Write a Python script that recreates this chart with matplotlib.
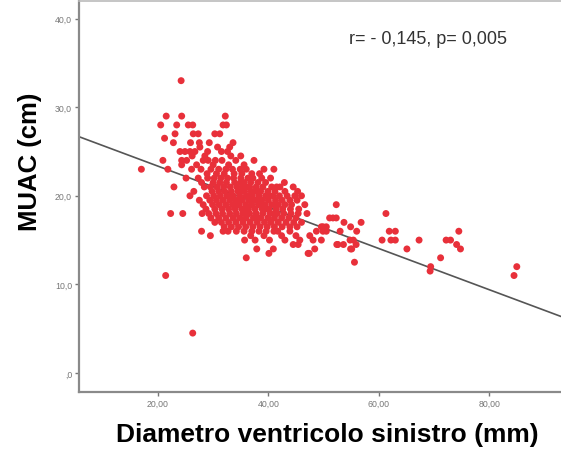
import numpy as np
import matplotlib.pyplot as plt

plt.rcParams["font.family"] = ["Liberation Sans", "DejaVu Sans"]

# MUAC (cm) rows, with the ventricle diameters (mm) measured at each value
muac_levels = [33.0, 29.0, 28.0, 27.0, 26.5, 26.0, 25.5, 25.0, 24.5, 24.0,
               23.5, 23.0, 22.5, 22.0, 21.5, 21.0, 20.5, 20.0, 19.5, 19.0,
               18.5, 18.0, 17.5, 17.0, 16.5, 16.0, 15.5, 15.0, 14.5, 14.0,
               13.5, 13.0, 12.5, 12.0, 11.5, 11.0, 4.5]
diam_by_level = [
    [24.2],
    [21.5, 24.3, 32.2],
    [20.5, 23.4, 25.5, 26.3, 31.8, 32.4],
    [23.1, 26.4, 27.3, 30.3, 31.2],
    [21.2],
    [22.8, 25.9, 27.5, 29.3, 33.6],
    [27.6, 30.8, 33.0],
    [24.0, 24.9, 25.8, 26.7, 29.0, 31.5, 32.6],
    [26.2, 28.5, 33.2, 35.0],
    [20.9, 24.3, 25.2, 28.2, 29.1, 30.4, 31.6, 34.1, 37.4],
    [24.3, 27.0, 30.0, 32.8, 35.6],
    [17.0, 21.8, 26.1, 27.8, 29.6, 31.0, 32.3, 33.5, 34.9, 36.0, 39.2, 41.0],
    [28.9, 30.6, 32.0, 33.8, 35.2, 37.0, 38.4],
    [25.1, 27.3, 29.0, 30.2, 31.4, 32.6, 33.7, 35.0, 36.3, 37.2, 38.8, 40.4],
    [27.9, 30.0, 31.2, 32.4, 33.9, 35.0, 35.6, 36.8, 38.1, 39.5, 42.9],
    [22.9, 28.4, 29.5, 30.7, 31.9, 33.1, 34.3, 35.4, 36.0, 36.6, 37.8, 39.0,
     40.6, 41.5, 42.1, 44.5],
    [26.5, 29.8, 31.0, 32.1, 33.3, 34.5, 35.1, 35.7, 36.9, 37.5, 38.1, 38.6,
     39.9, 41.2, 43.0, 45.3],
    [25.8, 28.8, 30.1, 31.3, 32.5, 33.0, 33.6, 34.8, 36.0, 36.5, 37.1, 38.3,
     39.5, 40.1, 40.8, 42.0, 43.4, 44.8, 46.0],
    [27.5, 29.4, 30.6, 31.8, 33.0, 34.1, 34.7, 35.3, 36.5, 37.6, 38.2, 38.8,
     40.0, 41.3, 42.5, 43.9, 45.2],
    [28.2, 29.9, 31.1, 32.3, 33.5, 34.1, 34.7, 35.9, 37.0, 38.2, 38.8, 39.4,
     40.6, 41.2, 41.8, 43.0, 44.2, 46.6, 52.3],
    [28.7, 30.3, 31.6, 32.8, 34.0, 35.2, 35.8, 36.4, 37.6, 38.9, 39.5, 40.1,
     41.4, 42.6, 44.0, 45.5],
    [22.3, 24.5, 28.0, 29.2, 30.5, 31.7, 33.0, 34.2, 35.4, 36.0, 36.6, 37.8,
     39.0, 40.3, 41.0, 41.6, 42.8, 44.1, 45.4, 47.0, 61.3],
    [29.6, 31.0, 32.3, 33.6, 34.8, 36.0, 37.3, 38.0, 38.6, 39.9, 41.1, 42.4,
     43.7, 45.0, 51.1, 51.7, 52.3],
    [30.3, 31.5, 32.8, 34.1, 35.4, 36.7, 38.0, 39.3, 40.5, 41.8, 43.2, 44.6,
     46.0, 53.7, 56.8],
    [32.0, 33.3, 34.6, 35.9, 37.2, 38.5, 39.8, 41.1, 42.5, 43.9, 45.2, 49.6,
     49.9, 50.5, 54.9],
    [27.9, 31.8, 32.7, 34.2, 35.6, 37.0, 38.3, 39.6, 41.0, 41.7, 43.9, 48.7,
     49.9, 50.5, 53.0, 56.0, 61.9, 63.0, 74.5],
    [29.5, 36.8, 39.2, 42.4, 45.0, 47.5],
    [35.7, 37.6, 40.2, 43.0, 45.7, 48.1, 49.6, 54.8, 55.4, 60.6, 62.2, 63.0,
     67.3, 72.2, 73.0],
    [44.5, 45.4, 52.4, 52.6, 53.6, 55.9, 74.1],
    [37.9, 40.9, 48.4, 54.9, 55.1, 65.1, 74.8],
    [40.1, 47.2, 47.4],
    [36.0, 71.2],
    [55.6],
    [69.4, 85.0],
    [69.3],
    [21.4, 84.5],
    [26.3],
]

# fitted regression line: MUAC = intercept + slope * diameter
fit_intercept = 28.0
fit_slope = -0.2325

x_ticks = [20, 40, 60, 80]
x_tick_labels = ["20,00", "40,00", "60,00", "80,00"]
y_ticks = [0, 10, 20, 30, 40]
y_tick_labels = [",0", "10,0", "20,0", "30,0", "40,0"]

diam = np.concatenate([np.array(d) for d in diam_by_level])
muac = np.concatenate([np.full(len(d), m) for d, m in zip(diam_by_level, muac_levels)])

fig = plt.figure(figsize=(5.61, 4.56), dpi=100)
ax = fig.add_axes([0.1408, 0.1382, 0.866, 0.8575])

ax.scatter(diam, muac, s=25, color="#e8303a", edgecolors="none", zorder=3)

xl = (5.7, 93.7)
line_x = np.array(xl)
ax.plot(line_x, fit_intercept + fit_slope * line_x, color="#555555", lw=1.2, zorder=2)

ax.set_xlim(*xl)
ax.set_ylim(-2.15, 42.0)

ax.set_xticks(x_ticks)
ax.set_xticklabels(x_tick_labels)
ax.set_yticks(y_ticks)
ax.set_yticklabels(y_tick_labels)
ax.tick_params(axis="both", labelsize=6.3, colors="#777777", length=3, width=1, pad=2)

for side in ["left", "bottom"]:
    ax.spines[side].set_color("#8a8a8a")
    ax.spines[side].set_linewidth(1.6)
ax.spines["top"].set_color("#bbbbbb")
ax.spines["top"].set_linewidth(1.2)
ax.spines["right"].set_visible(False)

ax.text(0.555, 0.905, "r= - 0,145, p= 0,005", transform=ax.transAxes,
        fontsize=13, color="#333333", ha="left", va="center")

fig.text(0.584, 0.046, "Diametro ventricolo sinistro (mm)", fontsize=19,
         fontweight="bold", ha="center", va="center")
fig.text(0.0535, 0.646, "MUAC (cm)", fontsize=18.5, fontweight="bold",
         rotation=90, ha="center", va="center")

fig.savefig("out.png", dpi=100)
